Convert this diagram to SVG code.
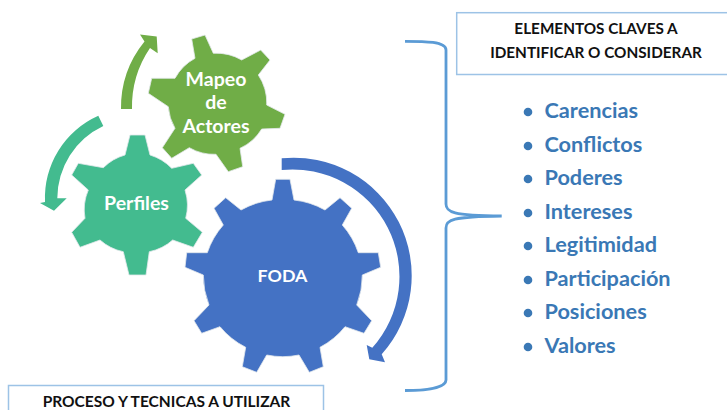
<svg xmlns="http://www.w3.org/2000/svg" width="727" height="410" viewBox="0 0 727 410">
<style>
text{font-family:"Lato","Carlito","Liberation Sans",sans-serif;font-weight:700}
.g{font-size:19.500px;fill:#fff;text-anchor:middle}
.h{font-size:15.300px;fill:#111;text-anchor:middle}
.l{font-size:21.700px;fill:#3a78b5}
.b{fill:#fff;stroke:#9dc3e6;stroke-width:1.5}
.d{fill:#3a78b5}
.s{stroke:#e3e8ec;stroke-width:.8}
</style>
<rect width="727" height="410" fill="#fff"/>
<g id="connectors">
<path id="arrow-green" fill="#70ad47" d="M121 109L132 109A105 105 0 0 1 150 48L157.700 53.300L156.700 36.500L140 34.500L144.500 41.500A105 105 0 0 0 121 109Z"/>
<path id="arrow-teal" fill="#43bb8f" d="M98.300 115.700L103.300 126A80 80 0 0 0 57.300 198.300L66.700 198.300L54 210.700L40 203L45 202A90 90 0 0 1 98.300 115.700Z"/>
<path id="arrow-blue" fill="#4472c4" d="M281.700 158.300L281.700 170A107 107 0 0 1 372.300 347.700L366.700 345L369.300 359.300L385 362.300L381.700 354.300A118 118 0 0 0 281.700 158.300Z"/>
<path id="brace" fill="none" stroke="#5b9bd5" stroke-width="2.800" d="M405 41.300C425 41.300 446 41.500 446 50L446 204C446 212 452 215.500 501.700 216C452 216.500 446 220 446 228L446 380C446 388 425 390.500 405 390.500"/>
</g>
<g id="gear-foda">
<path class="s" fill="#4472c4" d="M272 200L275.700 179.300L290 179.300L294 200A80 80 0 0 1 325 210L340 197.700L351.700 208.300L342.300 225A80 80 0 0 1 358.300 252.700L378.300 252.700L380.700 267.300L362.300 275A80 80 0 0 1 356.700 305L371.700 320.700L364 333.300L345 326.700A80 80 0 0 1 320 347.300L323.300 366.700L309.300 372.300L299 355A80 80 0 0 1 266.700 355L256.700 372.300L242.300 366.700L245.700 347.300A80 80 0 0 1 220 326.700L201.700 333.300L194 320.700L209 305A80 80 0 0 1 203.300 275L185 267.300L186.700 252.700L207.300 252.700A80 80 0 0 1 223.300 225L214 208.300L225.700 197.700L241 210A80 80 0 0 1 272 200Z"/>
<text class="g" style="font-size:17.800px" x="282.500" y="282">FODA</text>
</g>
<g id="gear-perfiles">
<path class="s" fill="#43bb8f" d="M125 155L130 135L145 135L150 155A50 50 0 0 1 171.700 168.300L193.300 163.300L201.700 175L185 190A50 50 0 0 1 185.700 218.300L202.300 232.300L193.300 247.300L172.700 240A50 50 0 0 1 149.300 251.700L146 275L129 275L123.300 251.700A50 50 0 0 1 100 240L80 247.300L71.700 232.300L85 218.300A50 50 0 0 1 88.300 190L71.700 175L78.300 163.300L103.300 167.700A50 50 0 0 1 125 155Z"/>
<text class="g" x="136.500" y="210">Perfiles</text>
</g>
<g id="gear-mapeo">
<path class="s" fill="#70ad47" d="M195 58.300L191.700 39L205 35L213.300 53.300A50 50 0 0 1 241.700 60L260.700 50L270 60L258.300 75A50 50 0 0 1 266.700 105L285 114.300L280 128.300L261.700 129A50 50 0 0 1 240 148.300L242.700 166.700L228.300 171.700L216 154.300A50 50 0 0 1 189.300 147.700L171.700 158.300L162.300 147.700L175 128.300A50 50 0 0 1 168.300 106.700L148.300 93.300L151.700 78.300L175 78.300A50 50 0 0 1 195 58.300Z"/>
<text class="g"><tspan x="216" y="86">Mapeo</tspan><tspan x="216" y="108.500">de</tspan><tspan x="216" y="132.500">Actores</tspan></text>
</g>
<g id="box-elementos">
<rect class="b" x="456.700" y="12.700" width="280" height="61.800"/>
<text class="h" x="596" y="34">ELEMENTOS CLAVES A</text>
<text class="h" x="596" y="58">IDENTIFICAR O CONSIDERAR</text>
</g>
<g id="list">
<circle class="d" cx="528" cy="112" r="4.300"/><text class="l" x="544.500" y="118">Carencias</text>
<circle class="d" cx="528" cy="146" r="4.300"/><text class="l" x="544.500" y="152">Conflictos</text>
<circle class="d" cx="528" cy="179" r="4.300"/><text class="l" x="544.500" y="185">Poderes</text>
<circle class="d" cx="528" cy="213" r="4.300"/><text class="l" x="544.500" y="219">Intereses</text>
<circle class="d" cx="528" cy="246" r="4.300"/><text class="l" x="544.500" y="252">Legitimidad</text>
<circle class="d" cx="528" cy="280" r="4.300"/><text class="l" x="544.500" y="286">Participación</text>
<circle class="d" cx="528" cy="313" r="4.300"/><text class="l" x="544.500" y="319">Posiciones</text>
<circle class="d" cx="528" cy="347" r="4.300"/><text class="l" x="544.500" y="353">Valores</text>
</g>
<g id="box-proceso">
<rect class="b" x="8.500" y="385.500" width="315" height="40"/>
<text class="h" style="font-size:15.500px" x="166.500" y="407">PROCESO Y TECNICAS A UTILIZAR</text>
</g>
</svg>
